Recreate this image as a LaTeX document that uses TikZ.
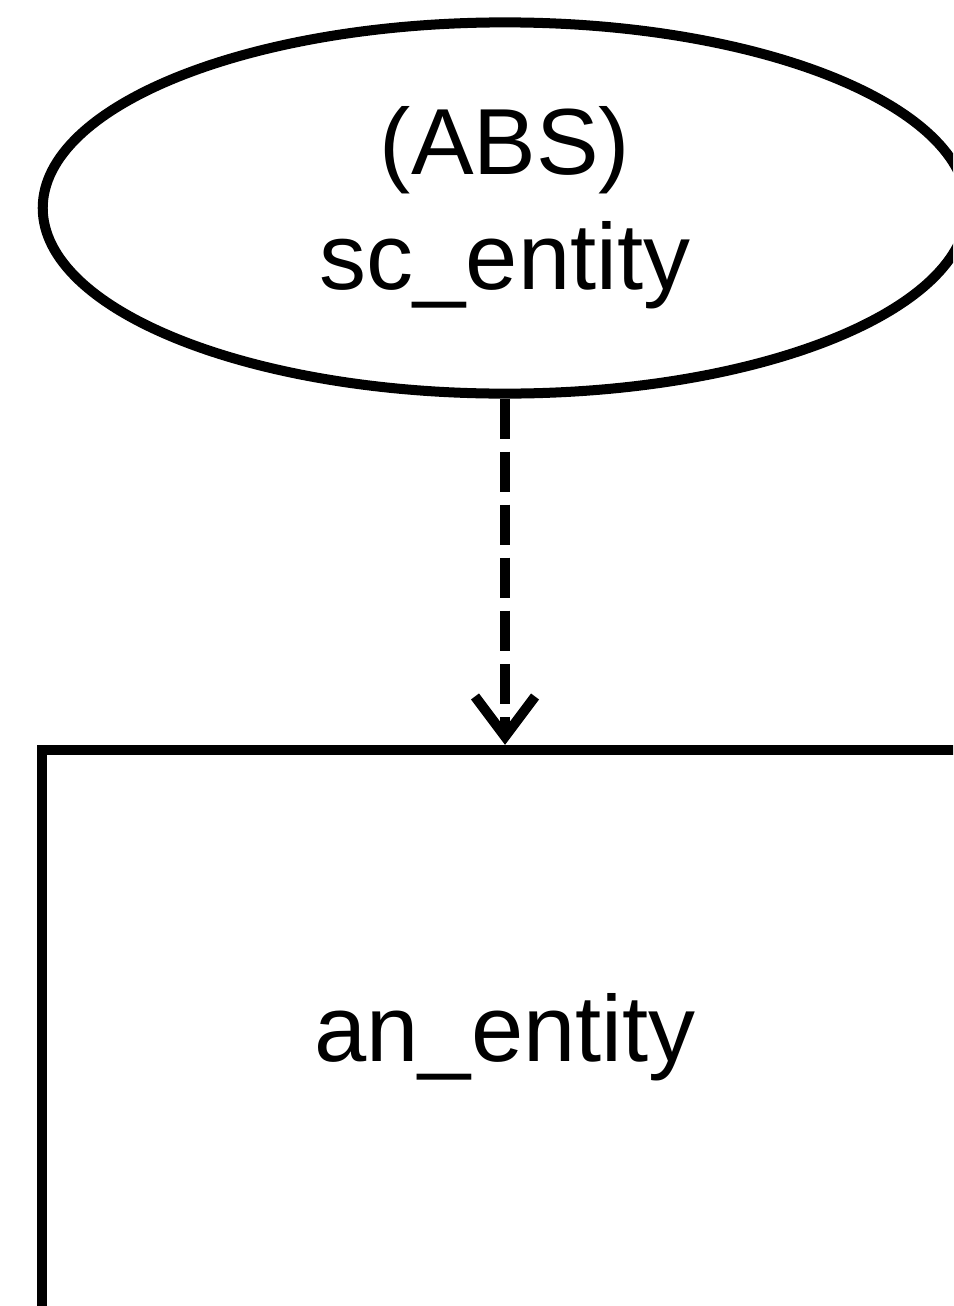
\documentclass[tikz,border=0pt]{standalone}
\usepackage{fontspec}
\setmainfont{Liberation Sans}
\usetikzlibrary{arrows.meta,shapes.geometric}

\begin{document}
\begin{tikzpicture}[x=0.01cm,y=-0.01cm,line width=0.1cm,
  every node/.style={font=\fontsize{26.7}{32.7}\selectfont},
  abstract/.style={draw,ellipse,inner sep=0,minimum width=9.24cm,minimum height=3.71cm,align=center},
  entity/.style={draw,rectangle,inner sep=0,minimum width=9.26cm,minimum height=5.74cm},
  inherits/.style={dash pattern=on 0.4cm off 0.13cm,-{Straight Barb[length=0.4cm,width=0.6cm]}}]

\useasboundingbox (0,0) rectangle (953,1306);
\clip (0,0) rectangle (953,1306);

\node [abstract] (abs) at (505,208) {(ABS)\\sc\_entity};
\node [entity] (ent) at (505,1037) {an\_entity};
\draw [inherits] (abs) -- (ent);

\end{tikzpicture}
\end{document}
